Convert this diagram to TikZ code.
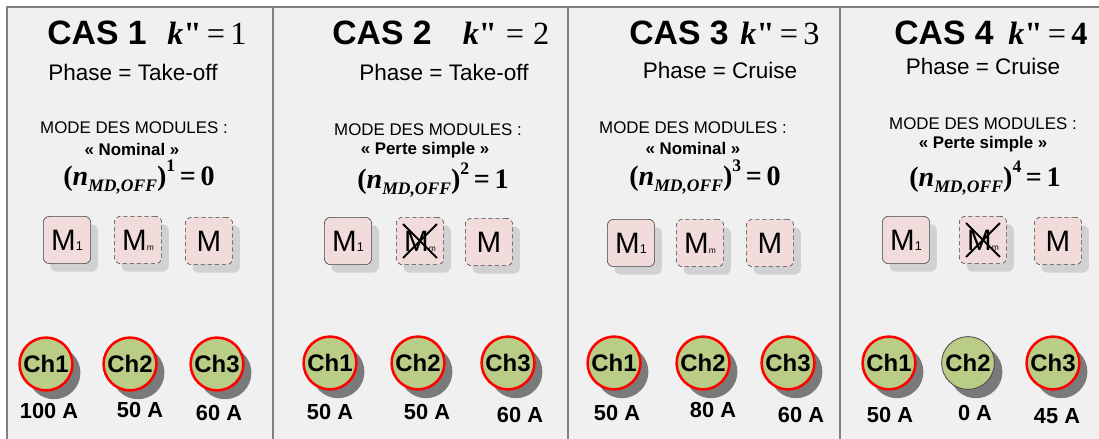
\documentclass[tikz,border=0pt]{standalone}
\usepackage{fontspec}
\setmainfont{Liberation Sans}
\newfontfamily\tnr{Liberation Serif}
\usepackage{xcolor}
\usepackage{tikz}
\usetikzlibrary{shadows}
\definecolor{fond}{RGB}{240,240,240}
\definecolor{rosemod}{RGB}{242,220,219}
\definecolor{vertch}{RGB}{186,205,135}
\newcommand{\nmd}[2]{(\textit{n}\raisebox{-0.45ex}{\fontsize{12.5}{12.5}\selectfont\textit{MD,OFF}})\raisebox{1.05ex}{\fontsize{12.5}{12.5}\selectfont #1}\,=\,#2}
\newcommand{\kk}{{\bfseries\itshape k}{\bfseries "}}
\tikzset{
    cadre/.style={draw=black!50, line width=0.9pt},
    cas/.style={font=\fontsize{24}{28}\selectfont\bfseries},
    kval/.style={font=\fontsize{23}{26}\selectfont\tnr},
    phase/.style={font=\fontsize{16}{19}\selectfont},
    mode/.style={font=\fontsize{12}{14}\selectfont},
    etat/.style={font=\fontsize{12}{14}\selectfont\bfseries},
    formule/.style={font=\fontsize{20}{22}\selectfont\tnr\bfseries},
    module/.style={rectangle, rounded corners=0.15cm, draw=black!75, fill=rosemod,
        minimum size=1.18cm, inner sep=0pt, font=\fontsize{21}{24}\selectfont,
        drop shadow={shadow xshift=0.18cm, shadow yshift=-0.2cm, fill=black!18, opacity=1}},
    modoff/.style={module, dash pattern=on 3pt off 2pt},
    croix/.style={line width=1.3pt, black},
    charge/.style={circle, draw=red, line width=1.8pt, fill=vertch, minimum size=1.32cm,
        inner sep=0pt, font=\fontsize{17}{19}\selectfont\bfseries,
        drop shadow={shadow xshift=0.2cm, shadow yshift=-0.22cm, fill=black!52, opacity=1}},
    chargeoff/.style={charge, draw=black!70, line width=0.6pt},
    amp/.style={font=\fontsize{15.5}{18}\selectfont\bfseries},
}
\begin{document}
\begin{tikzpicture}[x=0.025cm, y=-0.025cm]
    \useasboundingbox (0,0) rectangle (1099,439);
    \fill[fond] (7,7) rectangle (1099,439);
    \draw[cadre] (7,439) -- (7,7) -- (1099,7);
    \draw[cadre] (273,7) -- (273,439);
    \draw[cadre] (568,7) -- (568,439);
    \draw[cadre] (840,7) -- (840,439);

    \node[cas] (cas1) at (97,33) {CAS 1};
    \node[kval] (k1) at (207,33) {\kk\,=\,1};
    \node[phase] (phase1) at (133,72) {Phase = Take-off};
    \node[mode] (mode1) at (134,128) {MODE DES MODULES :};
    \node[etat] (etat1) at (132,149) {« Nominal »};
    \node[formule] (nmd1) at (139,177) {\nmd{1}{0}};
    \node[module] (m1a) at (67,240) {M{\fontsize{9}{9}\selectfont 1}};
    \node[modoff] (m1b) at (138,240) {M{\fontsize{6}{6}\selectfont m}};
    \node[modoff] (m1c) at (209,241) {M};
    \node[charge] (ch1a) at (46,364) {Ch1};
    \node[charge] (ch1b) at (130,364) {Ch2};
    \node[charge] (ch1c) at (217,364) {Ch3};
    \node[amp] (a1a) at (49,411) {100 A};
    \node[amp] (a1b) at (140,410) {50 A};
    \node[amp] (a1c) at (219,413) {60 A};

    \node[cas] (cas2) at (382,33) {CAS 2};
    \node[kval] (k2) at (506,33) {\kk\;=\;2};
    \node[phase] (phase2) at (444,72) {Phase = Take-off};
    \node[mode] (mode2) at (428,130) {MODE DES MODULES :};
    \node[etat] (etat2) at (425,150) {« Perte simple »};
    \node[formule] (nmd2) at (433,180) {\nmd{2}{1}};
    \node[module] (m2a) at (348,241) {M{\fontsize{9}{9}\selectfont 1}};
    \node[modoff] (m2b) at (420,241) {M{\fontsize{6}{6}\selectfont m}};
    \node[modoff] (m2c) at (489,242) {M};
    \draw[croix] ([shift={(7,7)}]m2b.north west) -- ([shift={(-7,-7)}]m2b.south east);
    \draw[croix] ([shift={(-7,7)}]m2b.north east) -- ([shift={(7,-7)}]m2b.south west);
    \node[charge] (ch2a) at (330,363) {Ch1};
    \node[charge] (ch2b) at (418,363) {Ch2};
    \node[charge] (ch2c) at (508,363) {Ch3};
    \node[amp] (a2a) at (330,412) {50 A};
    \node[amp] (a2b) at (427,412) {50 A};
    \node[amp] (a2c) at (520,415) {60 A};

    \node[cas] (cas3) at (679,33) {CAS 3};
    \node[kval] (k3) at (780,33) {\kk\,=\,3};
    \node[phase] (phase3) at (720,70) {Phase = Cruise};
    \node[mode] (mode3) at (693,128) {MODE DES MODULES :};
    \node[etat] (etat3) at (693,148) {« Nominal »};
    \node[formule] (nmd3) at (705,177) {\nmd{3}{0}};
    \node[module] (m3a) at (631,243) {M{\fontsize{9}{9}\selectfont 1}};
    \node[modoff] (m3b) at (700,243) {M{\fontsize{6}{6}\selectfont m}};
    \node[modoff] (m3c) at (770,243) {M};
    \node[charge] (ch3a) at (614,363) {Ch1};
    \node[charge] (ch3b) at (703,363) {Ch2};
    \node[charge] (ch3c) at (788,363) {Ch3};
    \node[amp] (a3a) at (617,413) {50 A};
    \node[amp] (a3b) at (713,410) {80 A};
    \node[amp] (a3c) at (801,415) {60 A};

    \node[cas] (cas4) at (944,33) {CAS 4};
    \node[kval] (k4) at (1048,33) {\kk\,=\,\textbf{4}};
    \node[phase] (phase4) at (983,66) {Phase = Cruise};
    \node[mode] (mode4) at (983,124) {MODE DES MODULES :};
    \node[etat] (etat4) at (983,144) {« Perte simple »};
    \node[formule] (nmd4) at (985,178) {\nmd{4}{1}};
    \node[module] (m4a) at (906,240) {M{\fontsize{9}{9}\selectfont 1}};
    \node[modoff] (m4b) at (983,240) {M{\fontsize{6}{6}\selectfont m}};
    \node[modoff] (m4c) at (1058,241) {M};
    \draw[croix] ([shift={(7,7)}]m4b.north west) -- ([shift={(-7,-7)}]m4b.south east);
    \draw[croix] ([shift={(-7,7)}]m4b.north east) -- ([shift={(7,-7)}]m4b.south west);
    \node[charge] (ch4a) at (889,363) {Ch1};
    \node[chargeoff] (ch4b) at (968,363) {Ch2};
    \node[charge] (ch4c) at (1053,363) {Ch3};
    \node[amp] (a4a) at (890,415) {50 A};
    \node[amp] (a4b) at (975,413) {0 A};
    \node[amp] (a4c) at (1057,416) {45 A};
\end{tikzpicture}
\end{document}
